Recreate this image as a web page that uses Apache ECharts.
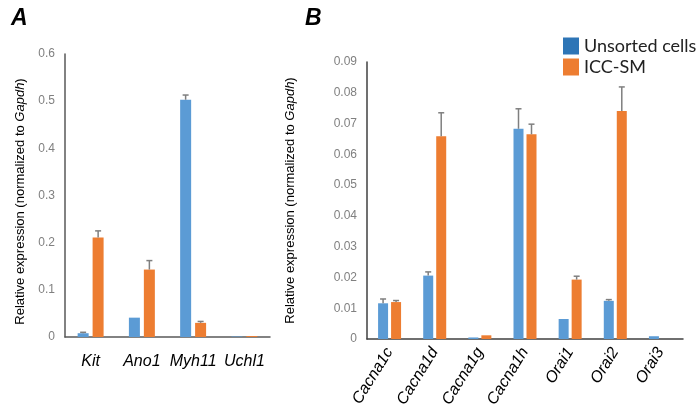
<!DOCTYPE html>
<html><head><meta charset="utf-8">
<script src="https://cdn.jsdelivr.net/npm/echarts@6/dist/echarts.min.js"></script>
<style>html,body{margin:0;padding:0;background:#fff}#c{width:699px;height:406px}</style>
</head><body><div id="c"></div>
<script>
// Panel A
const catsA = ['Kit', 'Ano1', 'Myh11', 'Uchl1'];
const unsortedA = [0.008, 0.041, 0.503, 0.001];
const unsortedErrA = [0.002, 0.001, 0.010, 0.0005];
const iccA = [0.211, 0.143, 0.030, 0.002];
const iccErrA = [0.014, 0.019, 0.003, 0.001];
const ticksA = [0, 0.1, 0.2, 0.3, 0.4, 0.5, 0.6];
// Panel B
const catsB = ['Cacna1c', 'Cacna1d', 'Cacna1g', 'Cacna1h', 'Orai1', 'Orai2', 'Orai3'];
const unsortedB = [0.0116, 0.0206, 0.0005, 0.0683, 0.0065, 0.0124, 0.0009];
const unsortedErrB = [0.0014, 0.0012, 0.0001, 0.0065, 0.0001, 0.0004, 0.0001];
const iccB = [0.0120, 0.0659, 0.0012, 0.0665, 0.0193, 0.0741, 0];
const iccErrB = [0.0005, 0.0076, 0.0001, 0.0033, 0.0011, 0.0078, 0];
const ticksB = [0, 0.01, 0.02, 0.03, 0.04, 0.05, 0.06, 0.07, 0.08, 0.09];
const seriesNames = ['Unsorted cells', 'ICC-SM'];

const BLUE = '#5B9BD5', ORANGE = '#ED7D31', ERR = '#7F7F7F';
const FONT = 'Liberation Sans';

function errSeries(xi, yi, vals, errs, offset, capHalf) {
  return {
    type: 'custom', xAxisIndex: xi, yAxisIndex: yi, z: 5, silent: true,
    data: vals.map((v, i) => [i, v, v + errs[i]]),
    renderItem: function (params, api) {
      const base = api.coord([api.value(0), api.value(1)]);
      const top = api.coord([api.value(0), api.value(2)]);
      const x = base[0] + offset;
      if (base[1] - top[1] < 0.5) return null;
      return { type: 'group', children: [
        { type: 'line', shape: { x1: x, y1: base[1], x2: x, y2: top[1] }, style: { stroke: ERR, lineWidth: 1.5 } },
        { type: 'line', shape: { x1: x - capHalf, y1: top[1], x2: x + capHalf, y2: top[1] }, style: { stroke: ERR, lineWidth: 1.5 } }
      ]};
    }
  };
}

const yName = '{n|Relative expression (normalized to }{i|Gapdh}{n|)}';
const yNameRich = { n: { fontFamily: FONT, fontSize: 13, color: '#000' }, i: { fontFamily: FONT, fontSize: 13, fontStyle: 'italic', color: '#000' } };
const tickFmt = v => String(+v.toFixed(2));

const chart = echarts.init(document.getElementById('c'), null, { renderer: 'canvas' });
chart.setOption({
  animation: false,
  backgroundColor: '#fff',
  title: [
    { text: 'A', left: 6, top: 2, textStyle: { fontFamily: FONT, fontSize: 23, fontWeight: 'bold', fontStyle: 'italic', color: '#000' } },
    { text: 'B', left: 300, top: 2, textStyle: { fontFamily: FONT, fontSize: 23, fontWeight: 'bold', fontStyle: 'italic', color: '#000' } }
  ],
  legend: {
    left: 558, top: 32, orient: 'vertical', itemWidth: 16, itemHeight: 17, itemGap: 3,
    textStyle: { fontFamily: 'Lato', fontSize: 18, color: '#222' },
    data: [
      { name: seriesNames[0], icon: 'rect', itemStyle: { color: '#2E75B6' } },
      { name: seriesNames[1], icon: 'rect', itemStyle: { color: ORANGE } }
    ]
  },
  grid: [
    { left: 65, top: 54, width: 205, height: 283, containLabel: false, outerBoundsMode: 'none' },
    { left: 367, top: 62, width: 316, height: 277, containLabel: false, outerBoundsMode: 'none' }
  ],
  xAxis: [
    { type: 'category', gridIndex: 0, data: catsA,
      axisLine: { lineStyle: { color: '#595959', width: 1.5 } }, axisTick: { show: false },
      axisLabel: { interval: 0, fontFamily: FONT, fontSize: 16, fontStyle: 'italic', color: '#000', margin: 17 } },
    { type: 'category', gridIndex: 1, data: catsB,
      axisLine: { lineStyle: { color: '#404040', width: 1.5 } }, axisTick: { show: false },
      axisLabel: { interval: 0, fontFamily: FONT, fontSize: 16, fontStyle: 'italic', color: '#000', rotate: 58, margin: 10 } }
  ],
  yAxis: [
    { type: 'value', gridIndex: 0, min: ticksA[0], max: ticksA[ticksA.length - 1], interval: 0.1,
      axisLine: { show: true, lineStyle: { color: '#595959', width: 1.5 } }, axisTick: { show: false }, splitLine: { show: false },
      axisLabel: { fontFamily: FONT, fontSize: 12, color: '#808080', margin: 10, formatter: tickFmt },
      name: yName, nameLocation: 'middle', nameRotate: 90, nameGap: 38,
      nameTextStyle: { rich: yNameRich, padding: [0, 12, 0, 0] } },
    { type: 'value', gridIndex: 1, min: ticksB[0], max: ticksB[ticksB.length - 1], interval: 0.01,
      axisLine: { show: true, lineStyle: { color: '#404040', width: 1.5 } }, axisTick: { show: false }, splitLine: { show: false },
      axisLabel: { fontFamily: FONT, fontSize: 12, color: '#808080', margin: 10, formatter: tickFmt },
      name: yName, nameLocation: 'middle', nameRotate: 90, nameGap: 70, nameTextStyle: { rich: yNameRich } }
  ],
  series: [
    { name: seriesNames[0], type: 'bar', xAxisIndex: 0, yAxisIndex: 0, data: unsortedA, barWidth: 11, barGap: '36%', itemStyle: { color: BLUE } },
    { name: seriesNames[1], type: 'bar', xAxisIndex: 0, yAxisIndex: 0, data: iccA, barWidth: 11, barGap: '36%', itemStyle: { color: ORANGE } },
    { name: seriesNames[0], type: 'bar', xAxisIndex: 1, yAxisIndex: 1, data: unsortedB, barWidth: 10, barGap: '30%', itemStyle: { color: BLUE } },
    { name: seriesNames[1], type: 'bar', xAxisIndex: 1, yAxisIndex: 1, data: iccB, barWidth: 10, barGap: '30%', itemStyle: { color: ORANGE } },
    errSeries(0, 0, unsortedA, unsortedErrA, -7.5, 3),
    errSeries(0, 0, iccA, iccErrA, 7.5, 3),
    errSeries(1, 1, unsortedB, unsortedErrB, -6.5, 3),
    errSeries(1, 1, iccB, iccErrB, 6.5, 3)
  ]
});
</script></body></html>
